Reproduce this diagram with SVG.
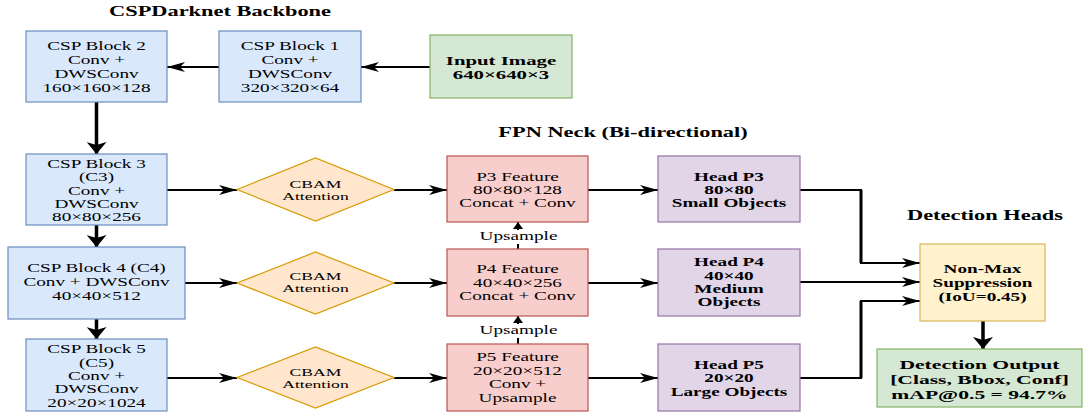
<svg xmlns="http://www.w3.org/2000/svg" width="1085" height="415" viewBox="0 0 1085 415">
<defs>
<style>
text{font-family:"Liberation Serif","Times New Roman",serif;fill:#000;text-anchor:middle}
.t{font-size:12px}
.b{font-size:12px;font-weight:bold}
.ttl{font-size:14px;font-weight:bold}
.cb{font-size:11px}
.blue{fill:#dae8fc;stroke:#6c8ebf;stroke-width:1.2}
.green{fill:#d5e8d4;stroke:#82b366;stroke-width:1.2}
.orange{fill:#ffe6cc;stroke:#d79b00;stroke-width:1.2}
.red{fill:#f8cecc;stroke:#b85450;stroke-width:1.2}
.purple{fill:#e1d5e7;stroke:#9673a6;stroke-width:1.2}
.yellow{fill:#fff2cc;stroke:#d6b656;stroke-width:1.2}
.c{fill:none;stroke:#000;stroke-width:2}
.cv{fill:none;stroke:#000;stroke-width:3}
.ck{fill:none;stroke:#000;stroke-width:3.5}
</style>
<marker id="ah" markerUnits="userSpaceOnUse" markerWidth="18" markerHeight="10" refX="18" refY="5" orient="auto" viewBox="0 0 18 10">
<path d="M0,0 L18,5 L0,10 L5,5 Z" fill="#000"/>
</marker>
<marker id="av" markerUnits="userSpaceOnUse" markerWidth="12" markerHeight="20" refX="12" refY="10" orient="auto" viewBox="0 0 12 20">
<path d="M0,0 L12,10 L0,20 L3,10 Z" fill="#000"/>
</marker>
<marker id="as" markerUnits="userSpaceOnUse" markerWidth="7" markerHeight="10" refX="7" refY="5" orient="auto" viewBox="0 0 7 10">
<path d="M0,0 L7,5 L0,10 Z" fill="#000"/>
</marker>
</defs>
<rect width="1085" height="415" fill="#fff"/>

<g id="titles">
<g transform="translate(220,0) scale(1.6,1)"><text class="ttl" x="0" y="16">CSPDarknet Backbone</text></g>
<g transform="translate(623,0) scale(1.6,1)"><text class="ttl" x="0" y="137">FPN Neck (Bi-directional)</text></g>
<g transform="translate(985,0) scale(1.6,1)"><text class="ttl" x="0" y="220">Detection Heads</text></g>
</g>

<g id="connectors">
<path class="c" d="M430,67 L361,67" marker-end="url(#ah)"/>
<path class="c" d="M219,67 L167,67" marker-end="url(#ah)"/>
<path class="ck" d="M96.5,102 L96.5,154" marker-end="url(#av)"/>
<path class="ck" d="M96.5,225 L96.5,247" marker-end="url(#av)"/>
<path class="ck" d="M96.5,319 L96.5,339" marker-end="url(#av)"/>
<path class="c" d="M167,190 L237,190" marker-end="url(#ah)"/>
<path class="c" d="M185,283 L237,283" marker-end="url(#ah)"/>
<path class="c" d="M167,378 L237,378" marker-end="url(#ah)"/>
<path class="c" d="M394,190 L447,190" marker-end="url(#ah)"/>
<path class="c" d="M394,283 L447,283" marker-end="url(#ah)"/>
<path class="c" d="M394,378 L447,378" marker-end="url(#ah)"/>
<path class="c" d="M588,190 L658,190" marker-end="url(#ah)"/>
<path class="c" d="M588,283 L658,283" marker-end="url(#ah)"/>
<path class="c" d="M588,378 L658,378" marker-end="url(#ah)"/>
<path class="c" d="M518,249 L518,222" marker-end="url(#as)"/>
<path class="c" d="M518,344 L518,316" marker-end="url(#as)"/>
<path class="c" d="M800,190 L861,190 L861,263 L920,263" marker-end="url(#ah)"/>
<path class="cv" d="M861,190 L861,263"/>
<path class="c" d="M800,282 L920,282" marker-end="url(#ah)"/>
<path class="c" d="M800,378 L861,378 L861,301 L920,301" marker-end="url(#ah)"/>
<path class="cv" d="M861,378 L861,301"/>
<path class="ck" d="M983,321 L983,349" marker-end="url(#av)"/>
<rect x="479" y="230" width="79" height="14" fill="#fff"/>
<rect x="479" y="324" width="79" height="14" fill="#fff"/>
<g transform="translate(518.5,0) scale(1.6,1)"><text class="t" x="0" y="240">Upsample</text><text class="t" x="0" y="334">Upsample</text></g>
</g>

<g id="input">
<rect class="green" x="430" y="35" width="142" height="63"/>
<g transform="translate(501,0) scale(1.6,1)"><text class="b" style="font-size:13px" x="0" y="65">Input Image</text><text class="b" style="font-size:13px" x="0" y="79.5">640×640×3</text></g>
</g>

<g id="csp1">
<rect class="blue" x="219" y="31" width="142" height="71"/>
<g transform="translate(290,0) scale(1.6,1)"><text class="t" x="0" y="50.5">CSP Block 1</text><text class="t" x="0" y="64">Conv +</text><text class="t" x="0" y="78">DWSConv</text><text class="t" x="0" y="91.7">320×320×64</text></g>
</g>

<g id="csp2">
<rect class="blue" x="26" y="31" width="141" height="71"/>
<g transform="translate(96.5,0) scale(1.6,1)"><text class="t" x="0" y="50.5">CSP Block 2</text><text class="t" x="0" y="64">Conv +</text><text class="t" x="0" y="78">DWSConv</text><text class="t" x="0" y="91.7">160×160×128</text></g>
</g>

<g id="csp3">
<rect class="blue" x="26" y="154" width="141" height="71"/>
<g transform="translate(96.5,0) scale(1.6,1)"><text class="t" x="0" y="168.3">CSP Block 3</text><text class="t" x="0" y="181.5">(C3)</text><text class="t" x="0" y="194.7">Conv +</text><text class="t" x="0" y="208">DWSConv</text><text class="t" x="0" y="221">80×80×256</text></g>
</g>

<g id="csp4">
<rect class="blue" x="8" y="247" width="177" height="72"/>
<g transform="translate(96.5,0) scale(1.6,1)"><text class="t" x="0" y="272">CSP Block 4 (C4)</text><text class="t" x="0" y="286">Conv + DWSConv</text><text class="t" x="0" y="300">40×40×512</text></g>
</g>

<g id="csp5">
<rect class="blue" x="26" y="339" width="141" height="72"/>
<g transform="translate(96.5,0) scale(1.6,1)"><text class="t" x="0" y="353.3">CSP Block 5</text><text class="t" x="0" y="366.7">(C5)</text><text class="t" x="0" y="380">Conv +</text><text class="t" x="0" y="393.3">DWSConv</text><text class="t" x="0" y="406.7">20×20×1024</text></g>
</g>

<g id="cbam3">
<path class="orange" d="M237,189.5 L315.5,158 L394,189.5 L315.5,221 Z"/>
<g transform="translate(315.5,0) scale(1.6,1)"><text class="cb" x="0" y="188">CBAM</text><text class="cb" x="0" y="200">Attention</text></g>
</g>
<g id="cbam4">
<path class="orange" d="M237,283 L315.5,252 L394,283 L315.5,314 Z"/>
<g transform="translate(315.5,0) scale(1.6,1)"><text class="cb" x="0" y="280.5">CBAM</text><text class="cb" x="0" y="292.5">Attention</text></g>
</g>
<g id="cbam5">
<path class="orange" d="M237,377.5 L315.5,347 L394,377.5 L315.5,408 Z"/>
<g transform="translate(315.5,0) scale(1.6,1)"><text class="cb" x="0" y="376.5">CBAM</text><text class="cb" x="0" y="388.5">Attention</text></g>
</g>

<g id="p3">
<rect class="red" x="447" y="156" width="141" height="66"/>
<g transform="translate(517.5,0) scale(1.6,1)"><text class="t" x="0" y="180.7">P3 Feature</text><text class="t" x="0" y="194">80×80×128</text><text class="t" x="0" y="207.3">Concat + Conv</text></g>
</g>
<g id="p4">
<rect class="red" x="447" y="249" width="141" height="67"/>
<g transform="translate(517.5,0) scale(1.6,1)"><text class="t" x="0" y="273.3">P4 Feature</text><text class="t" x="0" y="287">40×40×256</text><text class="t" x="0" y="300.3">Concat + Conv</text></g>
</g>
<g id="p5">
<rect class="red" x="447" y="344" width="141" height="67"/>
<g transform="translate(517.5,0) scale(1.6,1)"><text class="t" x="0" y="361.5">P5 Feature</text><text class="t" x="0" y="375">20×20×512</text><text class="t" x="0" y="388.5">Conv +</text><text class="t" x="0" y="402">Upsample</text></g>
</g>

<g id="headp3">
<rect class="purple" x="658" y="156" width="142" height="66"/>
<g transform="translate(729,0) scale(1.6,1)"><text class="b" x="0" y="180.7">Head P3</text><text class="b" x="0" y="194">80×80</text><text class="b" x="0" y="207.3">Small Objects</text></g>
</g>
<g id="headp4">
<rect class="purple" x="658" y="249" width="142" height="67"/>
<g transform="translate(729,0) scale(1.6,1)"><text class="b" x="0" y="266.5">Head P4</text><text class="b" x="0" y="280">40×40</text><text class="b" x="0" y="293">Medium</text><text class="b" x="0" y="306.5">Objects</text></g>
</g>
<g id="headp5">
<rect class="purple" x="658" y="344" width="142" height="67"/>
<g transform="translate(729,0) scale(1.6,1)"><text class="b" x="0" y="369">Head P5</text><text class="b" x="0" y="382.5">20×20</text><text class="b" x="0" y="396">Large Objects</text></g>
</g>

<g id="nms">
<rect class="yellow" x="920" y="244" width="125" height="77"/>
<g transform="translate(982.5,0) scale(1.6,1)"><text class="b" x="0" y="273.3">Non-Max</text><text class="b" x="0" y="287.3">Suppression</text><text class="b" x="0" y="301.5">(IoU=0.45)</text></g>
</g>

<g id="output">
<rect class="green" x="877" y="349" width="205" height="58"/>
<g transform="translate(979.5,0) scale(1.6,1)"><text class="b" style="font-size:13.5px" x="0" y="369.3">Detection Output</text><text class="b" style="font-size:13.5px" x="0" y="384.5">[Class, Bbox, Conf]</text><text class="b" style="font-size:13.5px" x="0" y="399.5">mAP@0.5 = 94.7%</text></g>
</g>
</svg>
